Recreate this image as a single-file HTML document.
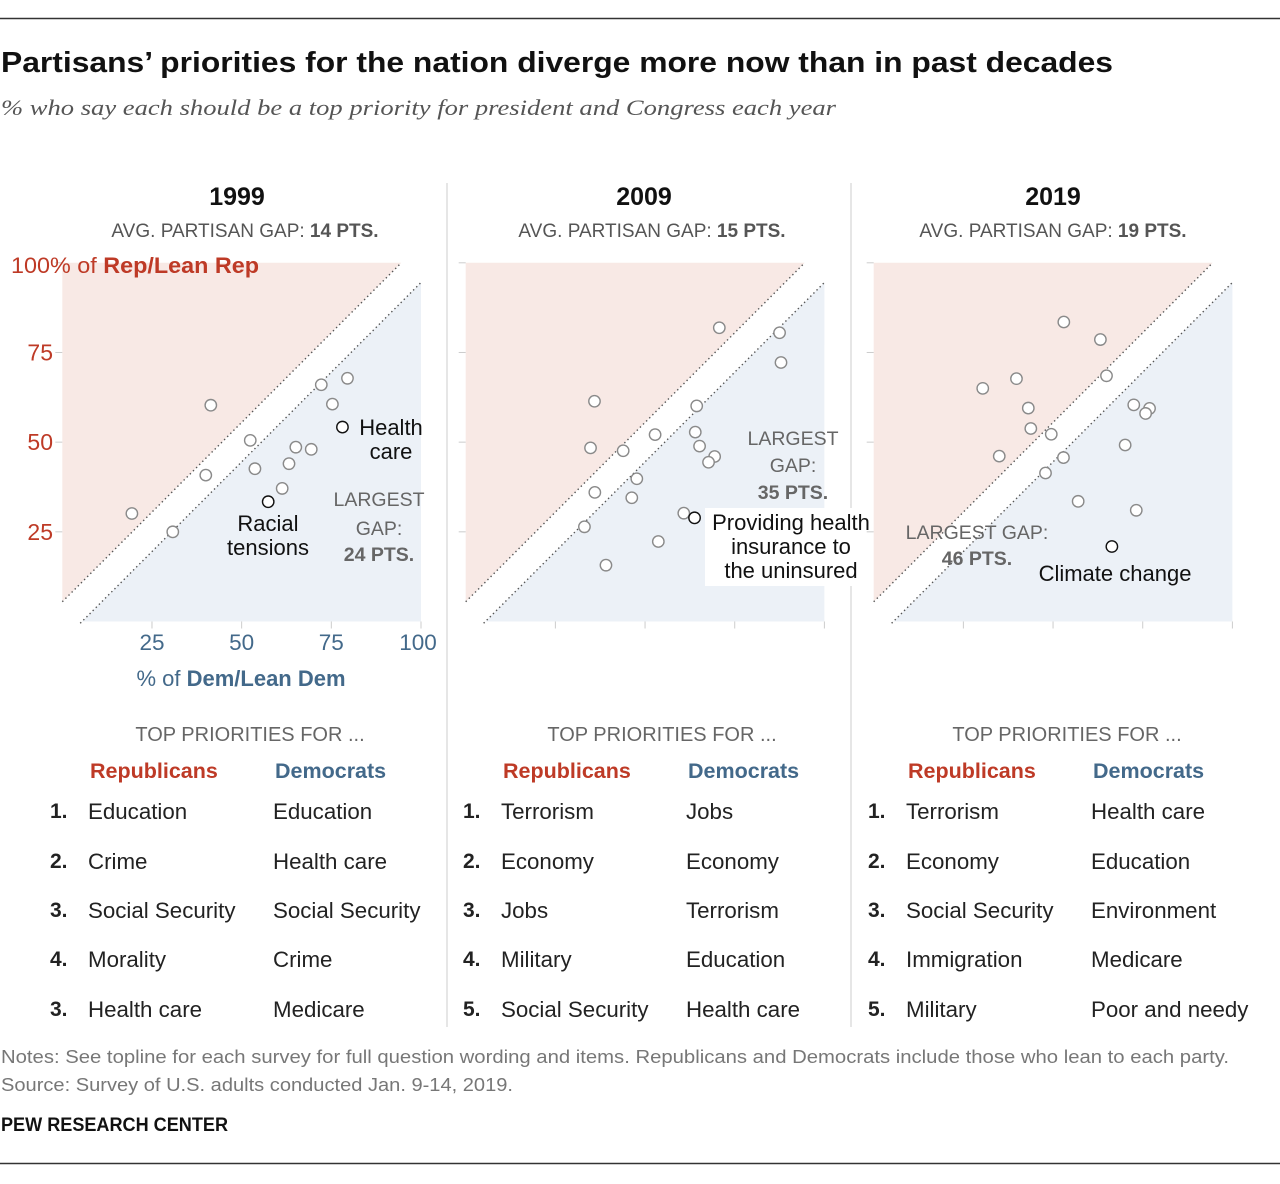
<!DOCTYPE html>
<html><head><meta charset="utf-8"><style>
html,body{margin:0;padding:0;background:#fff;}
svg{display:block;font-family:"Liberation Sans",sans-serif;}
</style></head><body>
<svg id="chart" width="1280" height="1184" viewBox="0 0 1280 1184" xmlns="http://www.w3.org/2000/svg">
<line x1="0" y1="18.5" x2="1280" y2="18.5" stroke="#333" stroke-width="1.5"/>
<text x="1" y="72" font-size="29" font-weight="bold" fill="#111" textLength="1112" lengthAdjust="spacingAndGlyphs">Partisans’ priorities for the nation diverge more now than in past decades</text>
<text x="1" y="115" font-size="22" font-style="italic" fill="#555" font-family="Liberation Serif, serif" textLength="835" lengthAdjust="spacingAndGlyphs">% who say each should be a top priority for president and Congress each year</text>
<line x1="447" y1="183" x2="447" y2="1027" stroke="#ccc"/>
<line x1="851" y1="183" x2="851" y2="1027" stroke="#ccc"/>
<g id="panels"></g>
<text x="1" y="1063" font-size="18" fill="#777" textLength="1228" lengthAdjust="spacingAndGlyphs">Notes: See topline for each survey for full question wording and items. Republicans and Democrats include those who lean to each party.</text>
<text x="1" y="1091" font-size="18" fill="#777" textLength="512" lengthAdjust="spacingAndGlyphs">Source: Survey of U.S. adults conducted Jan. 9-14, 2019.</text>
<text x="1" y="1131" font-size="19" font-weight="bold" fill="#111" textLength="227" lengthAdjust="spacingAndGlyphs">PEW RESEARCH CENTER</text>
<line x1="0" y1="1163.5" x2="1280" y2="1163.5" stroke="#333" stroke-width="1.5"/>
</svg>
<script>
const years = ["1999", "2009", "2019"];
const gaps = ["14", "15", "19"];
const xTicks = [25, 50, 75, 100];
const yTicks = [25, 50, 75];
const dem1999 = [19.4,30.8,40.0,41.4,52.4,53.7,57.4,61.3,63.2,65.1,69.4,72.2,75.3,79.5,78.1];
const rep1999 = [30.1,25.0,40.8,60.3,50.5,42.6,33.4,37.1,44.0,48.6,48.0,66.0,60.6,67.8,54.2];
const dem2009 = [70.7,87.5,87.9,35.9,64.4,52.8,64.0,65.2,34.8,43.9,69.4,67.7,47.7,36.0,46.3,60.8,63.8,33.1,53.7,39.1];
const rep2009 = [81.9,80.5,72.2,61.4,60.1,52.1,52.8,48.9,48.4,47.6,46.0,44.4,39.8,36.0,34.5,30.2,28.9,26.4,22.3,15.7];
const dem2019 = [53.0,63.2,64.9,39.8,30.4,43.1,72.5,76.9,75.8,43.8,49.5,70.1,35.0,52.9,47.9,57.0,73.2,66.4];
const rep2019 = [83.5,78.6,68.5,67.7,65.0,59.5,60.4,59.4,58.0,53.8,52.2,49.2,46.1,45.7,41.4,33.5,31.0,20.9];
const highlight1999 = [6, 14];
const highlight2009 = [16];
const highlight2019 = [17];
const repList1999 = ["Education","Crime","Social Security","Morality","Health care"];
const demList1999 = ["Education","Health care","Social Security","Crime","Medicare"];
const rankList1999 = ["1.","2.","3.","4.","3."];
const repList2009 = ["Terrorism","Economy","Jobs","Military","Social Security"];
const demList2009 = ["Jobs","Economy","Terrorism","Education","Health care"];
const repList2019 = ["Terrorism","Economy","Social Security","Immigration","Military"];
const demList2019 = ["Health care","Education","Environment","Medicare","Poor and needy"];
const rankList = ["1.","2.","3.","4.","5."];

const NS = "http://www.w3.org/2000/svg";
const root = document.getElementById("panels");
const X0 = [62.3, 465.7, 873.7], Y0 = 621.5, S = 3.587;
const RED = "#be3a26", BLUE = "#43698a";
function mk(tag, attrs, parent, txt){
  const e = document.createElementNS(NS, tag);
  for (const k in attrs) e.setAttribute(k, attrs[k]);
  if (txt !== undefined) e.textContent = txt;
  (parent || root).appendChild(e);
  return e;
}
const panelData = [
  {d: dem1999, r: rep1999, h: highlight1999, rl: repList1999, dl: demList1999, rk: rankList1999},
  {d: dem2009, r: rep2009, h: highlight2009, rl: repList2009, dl: demList2009, rk: rankList},
  {d: dem2019, r: rep2019, h: highlight2019, rl: repList2019, dl: demList2019, rk: rankList}
];
panelData.forEach((p, i) => {
  const x0 = X0[i];
  const sx = v => x0 + v * S;
  const sy = v => Y0 - v * S;
  const off = [0, 413, 818][i];
  const g = mk("g", {});
  
  
  const yr = mk("text", {x: [237, 644, 1053][i], y: 205, "font-size": 25, "font-weight": "bold", fill: "#111", "text-anchor": "middle"}, g, years[i]);
  
  
  const gp = mk("text", {x: [245, 652, 1053][i], y: 237, "font-size": 19, fill: "#555", "text-anchor": "middle"}, g);
  
  
  mk("tspan", {}, gp, "AVG. PARTISAN GAP: ");
  mk("tspan", {"font-weight": "bold"}, gp, gaps[i] + " PTS.");
  const pink = mk("polygon", {points: `${sx(0)},${sy(5.5)} ${sx(0)},${sy(100)} ${sx(94.5)},${sy(100)}`, fill: "#f8e9e5"}, g);
  
  
  const blue = mk("polygon", {points: `${sx(5.5)},${sy(0)} ${sx(100)},${sy(0)} ${sx(100)},${sy(94.5)}`, fill: "#ecf1f7"}, g);
  
  
  const l1 = mk("line", {x1: sx(0), y1: sy(5.5), x2: sx(94.5), y2: sy(100), stroke: "#555", "stroke-width": 1.4, "stroke-dasharray": "1.4 3"}, g);
  
  
  const l2 = mk("line", {x1: sx(5), y1: sy(-0.5), x2: sx(100), y2: sy(94.5), stroke: "#555", "stroke-width": 1.4, "stroke-dasharray": "1.4 3"}, g);
  
  
  [25, 50, 75, 100].forEach(t => {
    const tk = mk("line", {x1: x0 - 7, x2: x0, y1: sy(t), y2: sy(t), stroke: "#ccc"}, g);
    
    
  });
  if (i === 0) {
    yTicks.forEach(t => {
      const lb = mk("text", {x: 53, y: sy(t) + 8, "font-size": 23, fill: RED, "text-anchor": "end"}, g, String(t));
      
      
    });
    const yt = mk("text", {x: 11, y: 273, "font-size": 22, fill: RED, textLength: 248, lengthAdjust: "spacingAndGlyphs"}, g);
    
    
    mk("tspan", {}, yt, "100% of ");
    mk("tspan", {"font-weight": "bold"}, yt, "Rep/Lean Rep");
    const xt = mk("text", {x: 241, y: 686, "font-size": 22, fill: BLUE, "text-anchor": "middle"}, g);
    
    
    mk("tspan", {}, xt, "% of ");
    mk("tspan", {"font-weight": "bold"}, xt, "Dem/Lean Dem");
  }
  xTicks.forEach(t => {
    const tk = mk("line", {x1: sx(t), x2: sx(t), y1: Y0, y2: Y0 + 7, stroke: "#ccc"}, g);
    
    
    if (i === 0) {
      const lb = mk("text", {x: sx(t) - (t === 100 ? 3 : 0), y: 650, "font-size": 22.5, fill: BLUE, "text-anchor": "middle"}, g, String(t));
      
      
    }
  });
  const ann = [];
  if (i === 0) {
    ann.push([391, 435, "Health", "#111", "middle", false], [391, 459, "care", "#111", "middle", false],
      [268, 531, "Racial", "#111", "middle", false], [268, 555, "tensions", "#111", "middle", false],
      [379, 506, "LARGEST", "#666", "middle", false], [379, 535, "GAP:", "#666", "middle", false], [379, 561, "24 PTS.", "#666", "middle", true]);
  } else if (i === 1) {
    const bg = mk("rect", {x: 705, y: 508, width: 168, height: 78, fill: "#fff"}, g);
    
    
    ann.push([793, 445, "LARGEST", "#666", "middle", false], [793, 472, "GAP:", "#666", "middle", false], [793, 499, "35 PTS.", "#666", "middle", true],
      [791, 530, "Providing health", "#111", "middle", false], [791, 554, "insurance to", "#111", "middle", false], [791, 578, "the uninsured", "#111", "middle", false]);
  } else {
    ann.push([977, 539, "LARGEST GAP:", "#666", "middle", false], [977, 565, "46 PTS.", "#666", "middle", true],
      [1115, 581, "Climate change", "#111", "middle", false]);
  }
  ann.forEach(a => {
    const t = mk("text", {x: a[0], y: a[1], "font-size": a[3] === "#666" ? 19.5 : 22, fill: a[3], "text-anchor": a[4], "font-weight": a[5] ? "bold" : "normal"}, g, a[2]);
    
    
  });
  p.d.forEach((v, k) => {
    const hi = p.h.indexOf(k) >= 0;
    const c = mk("circle", {cx: sx(v), cy: sy(p.r[k]), r: 5.7, fill: "#fff", stroke: hi ? "#111" : "#8a8a8a", "stroke-width": 1.4}, g);
    
    
  });
  const tp = mk("text", {x: [250, 662, 1067][i], y: 741, "font-size": 20, fill: "#666", "text-anchor": "middle"}, g, "TOP PRIORITIES FOR ...");
  
  
  const rh = mk("text", {x: 90 + off, y: 778, "font-size": 21.5, "font-weight": "bold", fill: RED}, g, "Republicans");
  
  
  const dh = mk("text", {x: 275 + off, y: 778, "font-size": 21.5, "font-weight": "bold", fill: BLUE}, g, "Democrats");
  
  
  [819, 869, 918, 967, 1017].forEach((yy, k) => {
    const n = mk("text", {x: 50 + off, y: yy - 1, "font-size": 21, "font-weight": "bold", fill: "#222"}, g, p.rk[k]);
    
    
    const r = mk("text", {x: 88 + off, y: yy, "font-size": 22.3, fill: "#222"}, g, p.rl[k]);
    
    
    const d = mk("text", {x: 273 + off, y: yy, "font-size": 22.3, fill: "#222"}, g, p.dl[k]);
    
    
  });
});
</script>
</body></html>
